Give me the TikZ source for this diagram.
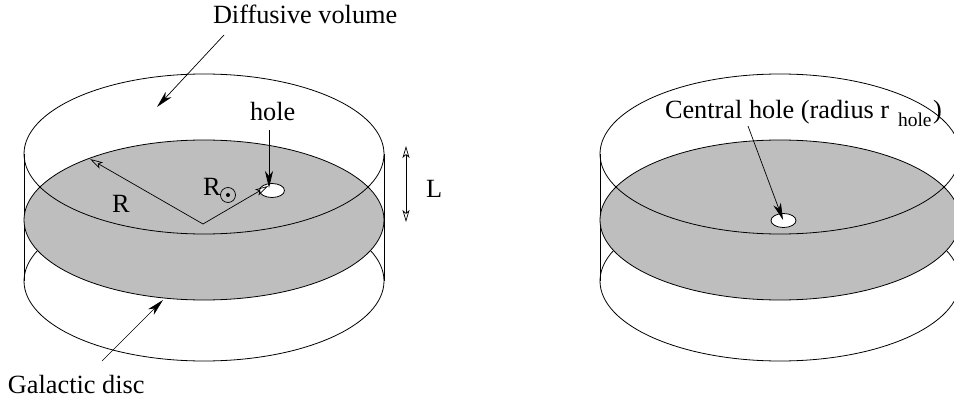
\documentclass[tikz,border=0pt]{standalone}
\usepackage{fontspec}
\setmainfont{Liberation Serif}
\usetikzlibrary{arrows.meta,shapes.geometric}
\tikzset{
  x=1pt,y=-1pt,
  outline/.style={draw=black,line width=0.8pt},
  discfill/.style={outline,fill=black!25.5},
  holefill/.style={outline,fill=white},
  arrowline/.style={draw=black,line width=0.7pt,-{Stealth[length=17pt,width=8pt,inset=5pt]}},
  openline/.style={draw=black,line width=0.7pt,-{Stealth[open,length=13pt,width=7pt,inset=3pt]}},
  lab/.style={anchor=base west,inner sep=0pt,outer sep=0pt,font=\fontsize{26.3pt}{28pt}\selectfont},
  sublab/.style={anchor=base west,inner sep=0pt,outer sep=0pt,font=\fontsize{19.5pt}{21pt}\selectfont},
}
\begin{document}
\begin{tikzpicture}
\useasboundingbox (0,0) rectangle (954,401);
\begin{scope}
\clip (0,0) rectangle (954,401);
% left cylinder
\draw[outline] (24,154) -- (24,281);
\draw[outline] (384,154) -- (384,281);
\draw[outline] (204,281) ellipse [x radius=180,y radius=80];
\path[discfill] (204,220) ellipse [x radius=180,y radius=80];
\draw[outline] (204,154) ellipse [x radius=180,y radius=80];
\node[holefill,shape=ellipse,minimum width=25pt,minimum height=14pt,inner sep=0pt] (holeL) at (272,190.5) {};
% right cylinder
\draw[outline] (600,154) -- (600,281);
\draw[outline] (960,154) -- (960,281);
\draw[outline] (780,281) ellipse [x radius=180,y radius=80];
\path[discfill] (780,220) ellipse [x radius=180,y radius=80];
\draw[outline] (780,154) ellipse [x radius=180,y radius=80];
\node[holefill,shape=ellipse,minimum width=25pt,minimum height=14pt,inner sep=0pt] (holeR) at (783.5,220.5) {};
\end{scope}
% labels
\node[lab] (diff) at (213,23.5) {Diffusive volume};
\node[lab] (holet) at (250,120.5) {hole};
\node[lab] (rr) at (112,212) {R};
\node[lab] (rs) at (203,196) {R};
\node[outline,line width=0.7pt,shape=circle,minimum size=15pt,inner sep=0pt] (sun) at (228,195) {};
\fill (sun.center) circle [radius=2];
\node[lab] (ll) at (426,198) {L};
\node[lab] (gal) at (8,393) {Galactic disc};
\node[lab] (cen) at (665,119) {Central hole (radius r};
\node[sublab] (subh) at (898,127) {hole};
\node[lab] (par) at (933,119) {)};
% connector ends
\coordinate (dstart) at (224,35);
\coordinate (dend) at (157,107);
\coordinate (hstart) at (269,130);
\coordinate (hend) at (269,188);
\coordinate (apex) at (203,224);
\coordinate (redge) at (90,159);
\coordinate (hedge) at (268,186);
\coordinate (gstart) at (102,361);
\coordinate (gend) at (163,300);
\coordinate (la) at (406,146);
\coordinate (lb) at (406,222);
\coordinate (cstart) at (748,126);
\coordinate (cend) at (783,220);
% arrows
\draw[arrowline] (dstart) -- (dend);
\draw[arrowline] (hstart) -- (hend);
\draw[openline] (apex) -- (redge);
\draw[openline] (apex) -- (hedge);
\draw[arrowline] (gstart) -- (gend);
\draw[draw=black,line width=0.7pt,{Stealth[open,length=12pt,width=7pt,inset=3pt]}-{Stealth[open,length=12pt,width=7pt,inset=3pt]}] (la) -- (lb);
\draw[arrowline] (cstart) -- (cend);
\end{tikzpicture}
\end{document}
